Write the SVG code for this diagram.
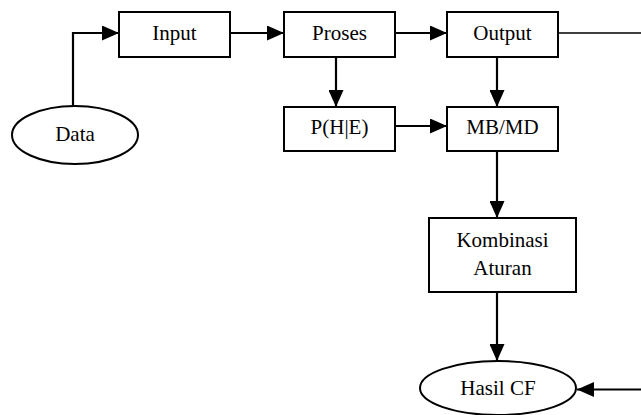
<svg xmlns="http://www.w3.org/2000/svg" width="641" height="415" viewBox="0 0 641 415">
<style>
.box{fill:#fff;stroke:#000;stroke-width:2}
.lbl{font-family:'Liberation Serif','Times New Roman',Times,'DejaVu Serif',serif;font-size:21px;fill:#000;text-anchor:middle}
.ln{fill:none;stroke:#000;stroke-width:2.2}
.thin{fill:none;stroke:#000;stroke-width:1.4}
</style>
<defs>
<marker id="ah" viewBox="0 0 17 15" refX="17" refY="7.5" markerWidth="17" markerHeight="15" markerUnits="userSpaceOnUse" orient="auto">
<path d="M0,0 L17,7.5 L0,15 Z" fill="#000"/>
</marker>
</defs>
<g id="connectors">
<path class="ln" d="M73,106 V33 H119" marker-end="url(#ah)"/>
<path class="ln" d="M230,33 H284" marker-end="url(#ah)"/>
<path class="ln" d="M392,33 H447" marker-end="url(#ah)"/>
<path class="ln" d="M336,57 V107" marker-end="url(#ah)"/>
<path class="ln" d="M395,126 H447" marker-end="url(#ah)"/>
<path class="ln" d="M497,57 V107" marker-end="url(#ah)"/>
<path class="ln" d="M497,151 V218" marker-end="url(#ah)"/>
<path class="ln" d="M497,292 V361" marker-end="url(#ah)"/>
<path class="thin" d="M558,33 H641"/>
<path class="ln" d="M641,389.5 H577" marker-end="url(#ah)"/>
</g>
<g id="data">
<ellipse class="box" cx="75" cy="135" rx="63" ry="29"/>
<text class="lbl" x="75" y="141" font-family="Liberation Serif, serif">Data</text>
</g>
<g id="input">
<rect class="box" x="119" y="12" width="111" height="45"/>
<text class="lbl" x="174.5" y="40">Input</text>
</g>
<g id="proses">
<rect class="box" x="284" y="12" width="111" height="45"/>
<text class="lbl" x="339.5" y="40">Proses</text>
</g>
<g id="output">
<rect class="box" x="447" y="12" width="111" height="45"/>
<text class="lbl" x="502.5" y="40">Output</text>
</g>
<g id="phe">
<rect class="box" x="284" y="107" width="111" height="44"/>
<text class="lbl" x="339.5" y="134">P(H|E)</text>
</g>
<g id="mbmd">
<rect class="box" x="447" y="107" width="111" height="44"/>
<text class="lbl" x="502.5" y="134">MB/MD</text>
</g>
<g id="kombinasi">
<rect class="box" x="429" y="218" width="147" height="74"/>
<text class="lbl" x="502.5" y="247">Kombinasi</text>
<text class="lbl" x="502.5" y="275">Aturan</text>
</g>
<g id="hasil">
<ellipse class="box" cx="498" cy="388" rx="78" ry="27"/>
<text class="lbl" x="498" y="395">Hasil CF</text>
</g>
</svg>
